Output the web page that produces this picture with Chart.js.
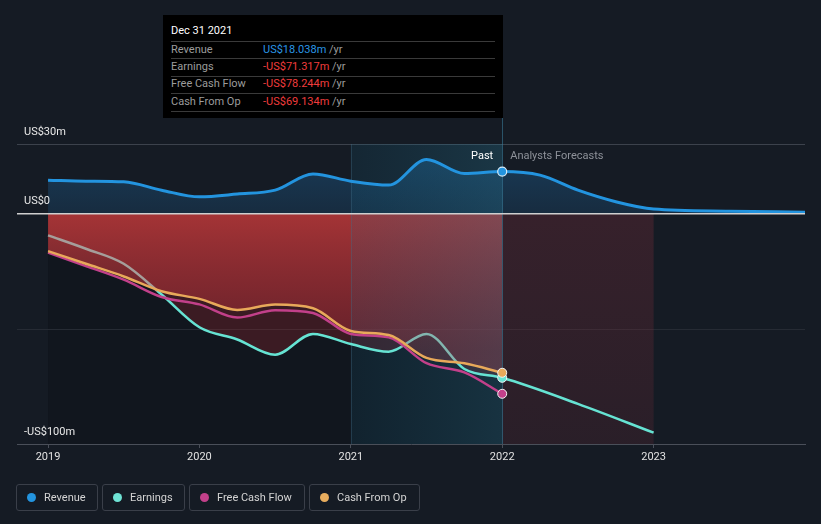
<!DOCTYPE html>
<html>
<head>
<meta charset="utf-8">
<script src="https://cdn.jsdelivr.net/npm/chart.js@4/dist/chart.umd.min.js"></script>
<style>
  html, body { margin:0; padding:0; background:#151b24; }
  #wrap { position:relative; width:821px; height:524px; overflow:hidden; font-family: Roboto, "Noto Sans", sans-serif; }
  #c { position:absolute; left:0; top:0; }
  #tip { position:absolute; left:163px; top:15px; width:340px; height:103px; background:#000; }
  #tip .t { position:absolute; left:8px; top:9px; font-size:11px; line-height:14px; color:#fff; }
  #tip .sep { position:absolute; left:8px; width:324px; height:1px; background:#3a3a3a; }
  #tip .lab { position:absolute; left:8px; font-size:11px; line-height:14px; color:#9c9c9c; }
  #tip .val { position:absolute; left:100px; font-size:11px; line-height:14px; }
  #tip .val span { color:#9c9c9c; }
  .lg { position:absolute; top:484px; height:25px; border:1px solid #3a3f49; border-radius:3px; box-sizing:content-box; }
  .lg .d { position:absolute; left:10px; top:8px; width:9px; height:9px; border-radius:50%; }
  .lg .tx { position:absolute; left:27px; top:5px; font-size:11px; line-height:15px; color:#d4d4d4; white-space:nowrap; }
</style>
</head>
<body>
<div id="wrap">
  <canvas id="c" width="821" height="524"></canvas>
  <div id="tip"></div>
  <div id="legend"></div>
</div>
<script>
// ---- data (US$ millions) ----
const pastYears = [2019, 2019.25, 2019.5, 2019.75, 2020, 2020.25, 2020.5, 2020.75, 2021, 2021.25, 2021.5, 2021.75, 2022];
const revenuePast = [14.3, 13.9, 13.6, 10.0, 7.1, 8.3, 10.0, 17.0, 13.9, 12.2, 23.3, 17.2, 18.038];
const earningsPast = [-9.6, -15.4, -21.9, -35.2, -49.4, -54.7, -61.3, -52.3, -56.7, -60.0, -52.3, -67.5, -71.317];
const fcfPast = [-17.1, -22.9, -28.8, -36.3, -39.5, -45.2, -42.0, -43.2, -52.3, -53.8, -65.0, -69.0, -78.244];
const cfoPast = [-16.4, -21.9, -27.4, -33.8, -37.1, -41.9, -39.6, -41.2, -51.0, -52.8, -62.7, -65.0, -69.134];
const revenueForecastYears = [2022.25, 2022.5, 2022.75, 2023, 2023.5, 2024];
const revenueForecast = [16.5, 10.0, 5.0, 1.8, 0.9, 0.4];
const earningsForecastYears = [2022.5, 2023];
const earningsForecast = [-82.6, -95.1];
const yearTicks = [2019, 2020, 2021, 2022, 2023];
const yLabels = [[30, 'US$30m'], [0, 'US$0'], [-100, '-US$100m']];
const seriesNames = ['Revenue', 'Earnings', 'Free Cash Flow', 'Cash From Op'];
const tooltipTitle = 'Dec 31 2021';
const tooltipValues = ['US$18.038m', '-US$71.317m', '-US$78.244m', '-US$69.134m'];

const COL = { rev:'#2394df', earn:'#66e3d3', fcf:'#c2408a', cfo:'#e8a95a' };
const legendCols = ['#2394df', '#6fe3d5', '#c2408a', '#e8ad5e'];

const pts = (xs, ys) => xs.map((x, i) => ({ x, y: ys[i] }));
const revenueData = pts(pastYears, revenuePast).concat(pts(revenueForecastYears, revenueForecast));
const earningsData = pts(pastYears, earningsPast).concat(pts(earningsForecastYears, earningsForecast));
const fcfData = pts(pastYears, fcfPast);
const cfoData = pts(pastYears, cfoPast);
const earnFillData = pts(pastYears, earningsPast);

function endPoint(ctx, big) { return (ctx.raw && ctx.raw.x === 2022) ? big : 0; }

function earnGradient(ctx) {
  const chart = ctx.chart; const a = chart.chartArea;
  if (!a) return COL.earn;
  const xs = chart.scales.x;
  const f = v => Math.min(1, Math.max(0, (xs.getPixelForValue(v) - a.left) / (a.right - a.left)));
  const g = chart.ctx.createLinearGradient(a.left, 0, a.right, 0);
  const grey = '#a59e9b', gt = '#82b5af';
  g.addColorStop(0, grey); g.addColorStop(f(2019.72), grey); g.addColorStop(f(2019.72), COL.earn);
  g.addColorStop(f(2021.33), COL.earn); g.addColorStop(f(2021.33), gt);
  g.addColorStop(f(2021.70), gt); g.addColorStop(f(2021.70), COL.earn); g.addColorStop(1, COL.earn);
  return g;
}
function revFill(ctx) {
  const chart = ctx.chart; const a = chart.chartArea;
  if (!a) return 'rgba(35,140,220,0.2)';
  const y = chart.scales.y;
  const g = chart.ctx.createLinearGradient(0, y.getPixelForValue(25), 0, y.getPixelForValue(0));
  g.addColorStop(0, 'rgba(35,140,220,0.28)'); g.addColorStop(1, 'rgba(35,140,220,0.15)');
  return g;
}
function redFill(ctx) {
  const chart = ctx.chart; const a = chart.chartArea;
  if (!a) return 'rgba(170,50,52,0.7)';
  const y = chart.scales.y;
  const g = chart.ctx.createLinearGradient(0, y.getPixelForValue(0), 0, y.getPixelForValue(-60));
  g.addColorStop(0, 'rgba(182,56,57,0.86)'); g.addColorStop(1, 'rgba(150,40,50,0.45)');
  return g;
}

const overlays = {
  id: 'overlays',
  beforeDraw(chart) {
    const { ctx, chartArea: a, scales: { x, y } } = chart;
    ctx.save();
    ctx.fillStyle = '#151b24'; ctx.fillRect(0, 0, chart.width, chart.height);
    // darker area below zero, past
    const y0 = y.getPixelForValue(0);
    ctx.fillStyle = 'rgba(5,5,10,0.22)';
    ctx.fillRect(x.getPixelForValue(2019), y0, x.getPixelForValue(2022) - x.getPixelForValue(2019), a.bottom - y0);
    // grid lines
    ctx.lineWidth = 1;
    ctx.strokeStyle = '#3c424c';
    let yy = Math.round(y.getPixelForValue(30)) + 0.5;
    ctx.beginPath(); ctx.moveTo(a.left, yy); ctx.lineTo(a.right, yy); ctx.stroke();
    ctx.strokeStyle = '#262b34';
    yy = Math.round(y.getPixelForValue(-50)) + 0.5;
    ctx.beginPath(); ctx.moveTo(a.left, yy); ctx.lineTo(a.right, yy); ctx.stroke();
    ctx.restore();
  },
  beforeDatasetsDraw(chart) {
    const { ctx, chartArea: a, scales: { x, y } } = chart;
    ctx.save();
    const y0 = y.getPixelForValue(0);
    // forecast rectangle 2022-2023 below zero
    const fx0 = x.getPixelForValue(2022), fx1 = x.getPixelForValue(2023);
    let g = ctx.createLinearGradient(0, y0, 0, a.bottom);
    g.addColorStop(0, 'rgba(125,45,58,0.32)'); g.addColorStop(1, 'rgba(125,45,58,0.2)');
    ctx.fillStyle = g; ctx.fillRect(fx0, y0, fx1 - fx0, a.bottom - y0);
    // highlighted band 2021-2022
    const bx0 = x.getPixelForValue(2021), bx1 = x.getPixelForValue(2022);
    g = ctx.createLinearGradient(bx0, 0, bx1, 0);
    g.addColorStop(0, 'rgba(20,110,145,0.14)'); g.addColorStop(1, 'rgba(40,125,155,0.28)');
    ctx.fillStyle = g; ctx.fillRect(bx0, a.top, bx1 - bx0, a.bottom - a.top);
    ctx.strokeStyle = 'rgba(70,110,135,0.35)'; ctx.lineWidth = 1;
    ctx.beginPath(); ctx.moveTo(Math.round(bx0) + 0.5, a.top); ctx.lineTo(Math.round(bx0) + 0.5, a.bottom); ctx.stroke();
    // hover line
    ctx.strokeStyle = 'rgba(60,130,160,0.55)';
    ctx.beginPath(); ctx.moveTo(Math.round(bx1) + 0.5, 118); ctx.lineTo(Math.round(bx1) + 0.5, a.bottom); ctx.stroke();
    ctx.restore();
  },
  afterDatasetsDraw(chart) {
    const { ctx, chartArea: a, scales: { x, y } } = chart;
    ctx.save();
    const y0 = y.getPixelForValue(0);
    ctx.strokeStyle = '#cfcfcf'; ctx.lineWidth = 1.5;
    ctx.beginPath(); ctx.moveTo(a.left, y0 + 0.5); ctx.lineTo(a.right, y0 + 0.5); ctx.stroke();
    ctx.font = '11px Roboto, "Noto Sans", sans-serif';
    ctx.textBaseline = 'middle'; ctx.textAlign = 'left';
    ctx.fillStyle = '#e8e8e8';
    yLabels.forEach(([v, t]) => ctx.fillText(t, 24, y.getPixelForValue(v) - 12));
    const px = x.getPixelForValue(2022);
    ctx.fillStyle = '#ffffff'; ctx.textAlign = 'right';
    ctx.fillText('Past', px - 9, 156);
    ctx.fillStyle = '#8d9199'; ctx.textAlign = 'left';
    ctx.fillText('Analysts Forecasts', px + 8, 156);
    ctx.restore();
  }
};

const chart = new Chart(document.getElementById('c'), {
  type: 'line',
  data: {
    datasets: [
      { label: 'Revenue', data: revenueData, borderColor: COL.rev, borderWidth: 3, fill: 'origin',
        backgroundColor: revFill, cubicInterpolationMode: 'monotone', order: 1,
        pointRadius: c => endPoint(c, 4.5), pointBackgroundColor: COL.rev, pointBorderColor: '#d8ecf8', pointBorderWidth: 1.2 },
      { label: 'Cash From Op', data: cfoData, borderColor: COL.cfo, borderWidth: 2.5, fill: 'origin',
        backgroundColor: redFill, cubicInterpolationMode: 'monotone', order: 2,
        pointRadius: c => endPoint(c, 4.5), pointBackgroundColor: COL.cfo, pointBorderColor: '#f4f4f4', pointBorderWidth: 1 },
      { label: 'Free Cash Flow', data: fcfData, borderColor: COL.fcf, borderWidth: 2.5, fill: false,
        cubicInterpolationMode: 'monotone', order: 3,
        pointRadius: c => endPoint(c, 4.5), pointBackgroundColor: COL.fcf, pointBorderColor: '#f4f4f4', pointBorderWidth: 1 },
      { label: 'Earnings', data: earningsData, borderColor: earnGradient, borderWidth: 2.5, fill: false,
        cubicInterpolationMode: 'monotone', order: 4,
        pointRadius: c => endPoint(c, 4.5), pointBackgroundColor: COL.earn, pointBorderColor: '#f4f4f4', pointBorderWidth: 1 },
      { label: 'earnFill', data: earnFillData, borderWidth: 0, borderColor: 'rgba(0,0,0,0)', fill: 'origin',
        backgroundColor: 'rgba(150,40,48,0.32)', cubicInterpolationMode: 'monotone', order: 5, pointRadius: 0 }
    ]
  },
  options: {
    responsive: false,
    animation: false,
    events: [],
    layout: { padding: { left: 17, right: 16, top: 144, bottom: 60 } },
    plugins: { legend: { display: false }, tooltip: { enabled: false }, filler: { drawTime: 'beforeDatasetsDraw' } },
    scales: {
      x: {
        type: 'linear', min: 2018.795, max: 2024,
        afterBuildTicks: s => { s.ticks = yearTicks.map(v => ({ value: v })); },
        afterFit: s => { s.height = 20; },
        grid: { drawOnChartArea: false, drawTicks: true, tickLength: 4, color: '#4a4f59' },
        border: { color: '#4a4f59' },
        ticks: { color: '#e2e2e2', font: { family: 'Roboto', size: 11 }, padding: 3, maxRotation: 0, callback: v => String(v) }
      },
      y: { display: false, min: -100, max: 30 }
    }
  },
  plugins: [overlays]
});

// tooltip box (HTML text)
const tip = document.getElementById('tip');
let html = '<div class="t">' + tooltipTitle + '</div>';
const sepY = [26, 43, 61, 78, 96];
sepY.forEach(v => { html += '<div class="sep" style="top:' + v + 'px"></div>'; });
const rowY = [27.5, 44.5, 62, 79.5];
const valCols = ['#2a96e6', '#f03c3c', '#f03c3c', '#f03c3c'];
seriesNames.forEach((n, i) => {
  html += '<div class="lab" style="top:' + rowY[i] + 'px">' + n + '</div>';
  html += '<div class="val" style="top:' + rowY[i] + 'px;color:' + valCols[i] + '">' + tooltipValues[i] + ' <span>/yr</span></div>';
});
tip.innerHTML = html;

// legend (HTML text)
const lg = document.getElementById('legend');
const lgLeft = [16, 102, 189, 309], lgW = [80, 81, 114, 109];
seriesNames.forEach((n, i) => {
  const d = document.createElement('div');
  d.className = 'lg'; d.style.left = lgLeft[i] + 'px'; d.style.width = lgW[i] + 'px';
  d.innerHTML = '<div class="d" style="background:' + legendCols[i] + '"></div><div class="tx">' + n + '</div>';
  lg.appendChild(d);
});
</script>
</body>
</html>
